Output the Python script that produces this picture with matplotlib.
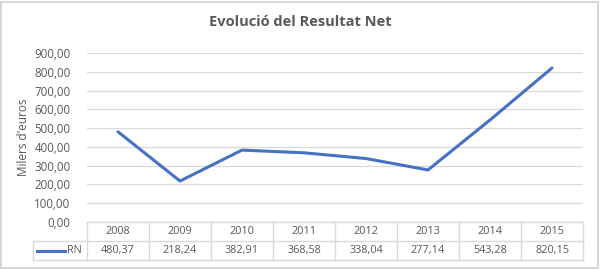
import matplotlib.pyplot as plt
from matplotlib.lines import Line2D
from matplotlib.patches import Rectangle

years = ['2008', '2009', '2010', '2011', '2012', '2013', '2014', '2015']
rn = [480.37, 218.24, 382.91, 368.58, 338.04, 277.14, 543.28, 820.15]
yticks = [0, 100, 200, 300, 400, 500, 600, 700, 800, 900]

plt.rcParams['font.family'] = ['Open Sans', 'DejaVu Sans']
txt = '#595959'
grid = '#d9d9d9'
blue = '#4472c4'

W, H = 600, 270
fig = plt.figure(figsize=(6, 2.7), dpi=100)

def fx(px):
    return px / W

def fy(py):
    return 1 - py / H

# outer border
fig.add_artist(Rectangle((fx(1), fy(268)), fx(597), 266 / H, fill=False,
                         edgecolor='#d0d0d0', lw=1.2, transform=fig.transFigure))

left, right, top, bottom = 87, 583, 53, 222
ax = fig.add_axes([fx(left), fy(bottom), fx(right - left), (bottom - top) / H])
x = range(len(years))
ax.plot(x, rn, color=blue, lw=2.2, solid_capstyle='round')
ax.set_xlim(-0.5, len(years) - 0.5)
ax.set_ylim(0, 900)
ax.set_yticks(yticks)
ax.set_yticklabels([f'{v},00' for v in yticks], color=txt, fontsize=8.3)
ax.set_xticks([])
ax.tick_params(axis='y', length=0, pad=12)
ax.grid(axis='y', color=grid, lw=0.9)
ax.set_axisbelow(True)
for s in ax.spines.values():
    s.set_visible(False)
ax.set_ylabel("Milers d'euros", color=txt, fontsize=8.5, labelpad=3)

fig.text(0.5, fy(22), 'Evolució del Resultat Net', ha='center', va='center',
         fontsize=10.5, fontweight='bold', color=txt)

# data table below the axis
r0, r1, r2 = 222, 241, 260
leg_left = 33
colw = (right - left) / len(years)

def hline(px0, px1, py):
    fig.add_artist(Line2D([fx(px0), fx(px1)], [fy(py), fy(py)], color=grid,
                          lw=1, transform=fig.transFigure))

def vline(px, py0, py1):
    fig.add_artist(Line2D([fx(px), fx(px)], [fy(py0), fy(py1)], color=grid,
                          lw=1, transform=fig.transFigure))

hline(left, right, r0)
hline(leg_left, right, r1)
hline(leg_left, right, r2)
vline(leg_left, r1, r2)
for i in range(len(years) + 1):
    vline(left + i * colw, r0, r2)

for i, (yr, v) in enumerate(zip(years, rn)):
    cx = left + (i + 0.5) * colw
    fig.text(fx(cx), fy((r0 + r1) / 2), yr, ha='center', va='center',
             fontsize=7.8, color=txt)
    fig.text(fx(cx), fy((r1 + r2) / 2), f'{v:.2f}'.replace('.', ','),
             ha='center', va='center', fontsize=7.8, color=txt)

fig.add_artist(Line2D([fx(37), fx(65)], [fy((r1 + r2) / 2)] * 2, color=blue,
                      lw=2.2, transform=fig.transFigure))
fig.text(fx(67), fy((r1 + r2) / 2), 'RN', ha='left', va='center',
         fontsize=7.8, color=txt)

fig.savefig('out.png', dpi=100)
